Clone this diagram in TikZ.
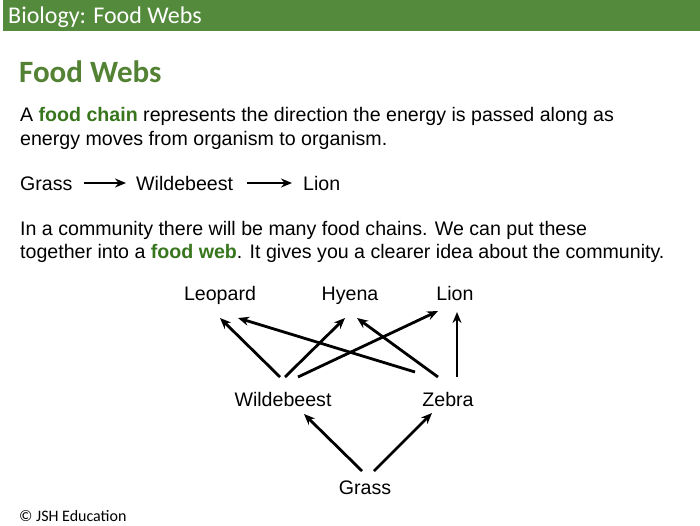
\documentclass[tikz,border=0pt]{standalone}
\usepackage{fontspec}
\usetikzlibrary{arrows.meta}
\setmainfont{Liberation Sans}
\newfontfamily\carl{Carlito}
\definecolor{hdr}{RGB}{84,138,60}
\definecolor{tg}{RGB}{84,130,53}
\definecolor{kw}{RGB}{56,118,29}
\begin{document}
\begin{tikzpicture}[x=1pt,y=-1pt,
 body/.style={anchor=base west,inner sep=0pt,font=\fontsize{19.6}{22}\selectfont},
 lab/.style={anchor=base,inner sep=0pt,font=\fontsize{19.6}{22}\selectfont},
 arr/.style={-{Stealth[length=11pt,width=9pt]},line width=2.8pt}]
\useasboundingbox (0,0) rectangle (700,525);
\fill[white] (0,0) rectangle (700,525);
\fill[hdr] (3,0) rectangle (700,31);
\node[anchor=base west,inner sep=0pt,text=white,font=\carl\fontsize{24}{26}\selectfont] (h) at (8,23) {Biology: Food Webs};
\node[anchor=base west,inner sep=0pt,text=tg,font=\carl\bfseries\fontsize{31}{33}\selectfont] (t) at (19,82) {Food Webs};
\node[body] (l1) at (20,121) {A \textcolor{kw}{\textbf{food chain}} represents the direction the energy is passed along as};
\node[body] (l2) at (20,145) {energy moves from organism to organism.};
\node[body] (g0) at (20,190) {Grass};
\node[body] (w0) at (136,190) {Wildebeest};
\node[body] (li0) at (303,190) {Lion};
\draw[arr] (84,183) -- (126,183);
\draw[arr] (247,183) -- (292,183);
\node[body] (p1) at (20,235) {In a community there will be many food chains. We can put these};
\node[body] (p2) at (20,258) {together into a \textcolor{kw}{\textbf{food web}}. It gives you a clearer idea about the community.};
\node[lab] (leo) at (220,300) {Leopard};
\node[lab] (hy) at (350,300) {Hyena};
\node[lab] (lion) at (455,300) {Lion};
\node[lab] (wb) at (283,406) {Wildebeest};
\node[lab] (zb) at (448,406) {Zebra};
\node[lab] (gr) at (365,494) {Grass};
\draw[arr] (280,377) -- (220,318);
\draw[arr] (415,372) -- (238,318);
\draw[arr] (285,377) -- (345,318);
\draw[arr] (298,377) -- (438,311);
\draw[arr] (438,377) -- (357,318);
\draw[arr] (457,377) -- (457,312);
\draw[arr] (362,471) -- (304,414);
\draw[arr] (374,471) -- (432,413);
\node[anchor=base west,inner sep=0pt,font=\carl\fontsize{16}{18}\selectfont] (ft) at (19,521) {© JSH Education};
\end{tikzpicture}
\end{document}
